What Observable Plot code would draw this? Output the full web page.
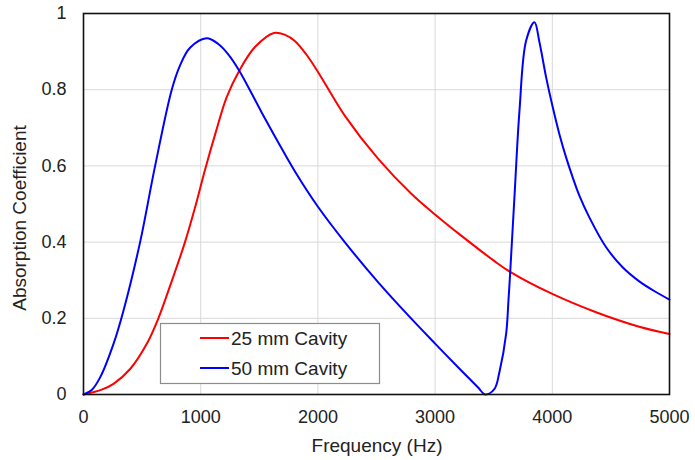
<!DOCTYPE html>
<html>
<head>
<meta charset="utf-8">
<script src="https://cdn.jsdelivr.net/npm/d3@7"></script>
<script src="https://cdn.jsdelivr.net/npm/@observablehq/plot@0.6"></script>
<style>
  html, body { margin: 0; padding: 0; background: white; }
  #chart { position: relative; width: 695px; height: 460px; }
</style>
</head>
<body>
<div id="chart"></div>
<script>
// 25 mm cavity (red)
const freq25 = [0, 150, 256, 398, 540, 639, 750, 866, 951, 1037, 1130, 1221, 1329, 1463, 1625, 1720, 1803, 1900, 2002, 2229, 2513, 2797, 3002, 3223, 3507, 3640, 4000, 4373, 4742, 5000];
const abs25  = [0, 0.012, 0.028, 0.067, 0.133, 0.2, 0.295, 0.4, 0.49, 0.59, 0.69, 0.78, 0.85, 0.912, 0.949, 0.944, 0.928, 0.893, 0.846, 0.732, 0.619, 0.527, 0.472, 0.417, 0.35, 0.322, 0.264, 0.216, 0.178, 0.159];

// 50 mm cavity (blue)
const freq50 = [0, 70, 142, 256, 341, 483, 611, 753, 824, 909, 1051, 1150, 1235, 1329, 1519, 1661, 1803, 2002, 2229, 2513, 2797, 3002, 3223, 3365, 3428, 3507, 3549, 3606, 3626, 3640, 3677, 3720, 3777, 3848, 3890, 3947, 4004, 4060, 4117, 4174, 4231, 4316, 4458, 4600, 4742, 4884, 5000];
const abs50  = [0, 0.012, 0.045, 0.133, 0.22, 0.4, 0.6, 0.8, 0.864, 0.91, 0.935, 0.92, 0.893, 0.85, 0.741, 0.662, 0.586, 0.492, 0.4, 0.295, 0.199, 0.133, 0.063, 0.019, 0, 0.015, 0.059, 0.159, 0.247, 0.317, 0.518, 0.745, 0.929, 0.977, 0.925, 0.833, 0.754, 0.684, 0.623, 0.57, 0.522, 0.465, 0.387, 0.334, 0.297, 0.269, 0.249];

const xTicks = [0, 1000, 2000, 3000, 4000, 5000];
const yTicks = [0, 0.2, 0.4, 0.6, 0.8, 1];
const yTickLabels = ["0", "0.2", "0.4", "0.6", "0.8", "1"];

const seriesNames = ["25 mm Cavity", "50 mm Cavity"];
const seriesColors = ["#ff0000", "#0000ff"];
const xLabel = "Frequency (Hz)";
const yLabel = "Absorption Coefficient";

const data25 = freq25.map((f, i) => ({f, a: abs25[i]}));
const data50 = freq50.map((f, i) => ({f, a: abs50[i]}));

const font = "'Liberation Sans', Arial, sans-serif";

const chart = Plot.plot({
  width: 695,
  height: 460,
  marginLeft: 83,
  marginRight: 26,
  marginTop: 13,
  marginBottom: 66,
  style: {fontFamily: font, fontSize: "18px", color: "#222", background: "white", overflow: "visible"},
  x: {domain: [0, 5000]},
  y: {domain: [0, 1]},
  marks: [
    Plot.gridX(xTicks, {stroke: "#d9d9d9", strokeOpacity: 1, strokeWidth: 1}),
    Plot.gridY(yTicks, {stroke: "#d9d9d9", strokeOpacity: 1, strokeWidth: 1}),
    Plot.axisX(xTicks, {tickSize: 0, tickPadding: 16, label: null, tickFormat: d => String(d), fontSize: 18}),
    Plot.axisY(yTicks, {tickSize: 0, tickPadding: 17, label: null, tickFormat: d => yTickLabels[yTicks.indexOf(d)], fontSize: 18}),
    Plot.line(data25, {x: "f", y: "a", stroke: seriesColors[0], strokeWidth: 2, curve: "catmull-rom"}),
    Plot.line(data50, {x: "f", y: "a", stroke: seriesColors[1], strokeWidth: 2, curve: "catmull-rom"}),
    Plot.frame({stroke: "#111", strokeWidth: 1.6})
  ]
});

document.getElementById("chart").appendChild(chart);

const svg = d3.select(chart);

// axis titles
svg.append("text")
  .attr("x", 377).attr("y", 452)
  .attr("text-anchor", "middle")
  .attr("font-family", font).attr("font-size", 19).attr("fill", "#222")
  .text(xLabel);

svg.append("text")
  .attr("transform", "translate(26,218) rotate(-90)")
  .attr("text-anchor", "middle")
  .attr("font-family", font).attr("font-size", 19).attr("fill", "#222")
  .text(yLabel);

// legend
const lg = svg.append("g");
lg.append("rect")
  .attr("x", 160.5).attr("y", 323.5).attr("width", 219).attr("height", 60)
  .attr("fill", "white").attr("stroke", "#8c8c8c").attr("stroke-width", 1.2);
seriesNames.forEach((name, i) => {
  const y = 338 + i * 30;
  lg.append("line").attr("x1", 200).attr("x2", 229).attr("y1", y).attr("y2", y)
    .attr("stroke", seriesColors[i]).attr("stroke-width", 2);
  lg.append("text").attr("x", 231).attr("y", y).attr("dy", "0.35em")
    .attr("text-anchor", "start")
    .attr("font-family", font).attr("font-size", 19).attr("fill", "#222")
    .text(name);
});
</script>
</body>
</html>
